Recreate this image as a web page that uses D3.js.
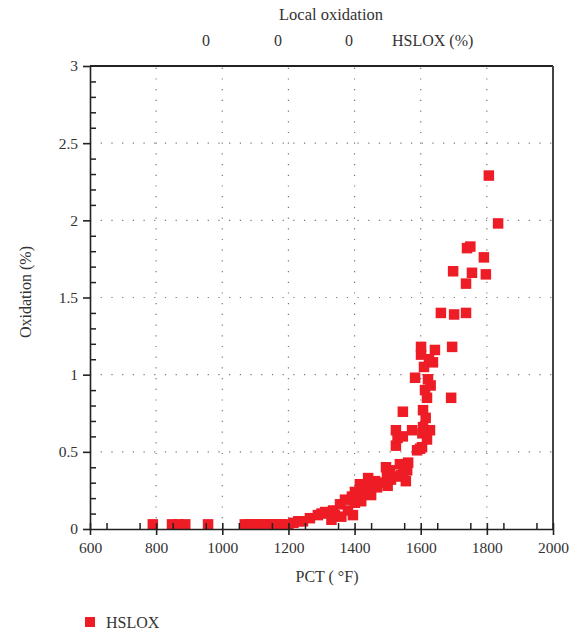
<!DOCTYPE html>
<html>
<head>
<meta charset="utf-8">
<script src="https://cdn.jsdelivr.net/npm/d3@7"></script>
<style>
  body { margin: 0; background: #fff; }
  svg text { font-family: "Liberation Serif", "DejaVu Serif", serif; fill: #333; }
</style>
</head>
<body>
<div id="chart"></div>
<script>
// data: PCT (F) and oxidation (%)
var pct = [790, 848, 868, 888, 957, 1068, 1082, 1096, 1110, 1124, 1138, 1152, 1166, 1178,
  1200, 1215, 1230, 1244, 1265, 1289, 1311, 1330, 1335, 1356, 1360, 1371, 1380, 1392, 1395,
  1401, 1401, 1416, 1420, 1432, 1441, 1447, 1450, 1468, 1480, 1498, 1500, 1507, 1510, 1528,
  1537, 1540, 1559, 1525, 1525, 1530, 1546, 1546, 1562, 1574, 1589, 1598, 1604, 1607, 1607,
  1619, 1628, 1619, 1613, 1622, 1583, 1692, 1601, 1601, 1643, 1637, 1695, 1661, 1701, 1737,
  1737, 1698, 1755, 1797, 1740, 1750, 1791, 1806, 1834,
  1610, 1625, 1630, 1615, 1605, 1548, 1555, 1495, 1462, 1430, 1340, 1300];
var oxidation = [0.03, 0.03, 0.03, 0.03, 0.03, 0.03, 0.03, 0.03, 0.03, 0.03, 0.03, 0.03, 0.03, 0.03,
  0.03, 0.04, 0.05, 0.05, 0.07, 0.09, 0.11, 0.06, 0.12, 0.16, 0.08, 0.19, 0.12, 0.21, 0.09,
  0.17, 0.24, 0.29, 0.18, 0.23, 0.33, 0.27, 0.22, 0.27, 0.30, 0.35, 0.28, 0.38, 0.32, 0.34,
  0.42, 0.35, 0.38, 0.54, 0.64, 0.59, 0.76, 0.60, 0.43, 0.64, 0.51, 0.52, 0.53, 0.66, 0.77,
  0.58, 0.64, 0.85, 0.90, 0.97, 0.98, 0.85, 1.18, 1.13, 1.16, 1.08, 1.18, 1.40, 1.39, 1.40,
  1.59, 1.67, 1.66, 1.65, 1.82, 1.83, 1.76, 2.29, 1.98,
  1.05, 1.10, 0.93, 0.72, 0.62, 0.36, 0.31, 0.40, 0.31, 0.26, 0.09, 0.10];

var xTicks = [600, 800, 1000, 1200, 1400, 1600, 1800, 2000];
var yTicks = [0, 0.5, 1, 1.5, 2, 2.5, 3];
var headerValues = ["0", "0", "0", "HSLOX (%)"];
var seriesName = "HSLOX";

var width = 576, height = 636;
var margin = { top: 66, right: 23, bottom: 107, left: 90 };
var red = "#ee1c25";

var svg = d3.select("#chart").append("svg")
  .attr("width", width)
  .attr("height", height);

// scales
var x = d3.scaleLinear().domain([600, 2000]).range([margin.left, width - margin.right]);
var y = d3.scaleLinear().domain([0, 3]).range([height - margin.bottom, margin.top]);

// dotted grid
svg.append("g").selectAll("line")
  .data(xTicks.slice(1, -1))
  .join("line")
  .attr("x1", function (d) { return x(d); })
  .attr("x2", function (d) { return x(d); })
  .attr("y1", y(0)).attr("y2", y(3))
  .attr("stroke", "#777").attr("stroke-width", 1.2)
  .attr("stroke-dasharray", "1.2,9.5");
svg.append("g").selectAll("line")
  .data(yTicks.slice(1, -1))
  .join("line")
  .attr("y1", function (d) { return y(d); })
  .attr("y2", function (d) { return y(d); })
  .attr("x1", x(600)).attr("x2", x(2000))
  .attr("stroke", "#777").attr("stroke-width", 1.2)
  .attr("stroke-dasharray", "1.2,9.5");

// points, clipped to the plot box
svg.append("clipPath").attr("id", "clip")
  .append("rect")
  .attr("x", x(600)).attr("y", y(3))
  .attr("width", x(2000) - x(600)).attr("height", y(0) - y(3));

var size = 10.5;
svg.append("g").attr("clip-path", "url(#clip)")
  .selectAll("rect")
  .data(pct.map(function (d, i) { return { pct: d, ox: oxidation[i] }; }))
  .join("rect")
  .attr("x", function (d) { return x(d.pct) - size / 2; })
  .attr("y", function (d) { return y(d.ox) - size / 2; })
  .attr("width", size).attr("height", size)
  .attr("fill", red);

// frame: top and right
svg.append("line").attr("x1", x(600)).attr("x2", x(2000)).attr("y1", y(3)).attr("y2", y(3))
  .attr("stroke", "#222").attr("stroke-width", 2);
svg.append("line").attr("x1", x(2000)).attr("x2", x(2000)).attr("y1", y(3)).attr("y2", y(0))
  .attr("stroke", "#444").attr("stroke-width", 2);

// minor ticks (inward)
var xAxisMinor = svg.append("g")
  .attr("transform", "translate(0," + y(0) + ")")
  .call(d3.axisTop(x).tickValues(d3.range(650, 2000, 100)).tickSize(6).tickFormat(""));
var yAxisMinor = svg.append("g")
  .attr("transform", "translate(" + x(600) + ",0)")
  .call(d3.axisRight(y).tickValues(d3.range(1, 30).filter(function (d) { return d % 5 != 0; }).map(function (d) { return d / 10; }))
    .tickSize(6).tickFormat(""));
xAxisMinor.selectAll(".tick line").attr("stroke", "#222").attr("stroke-width", 1.5);
yAxisMinor.selectAll(".tick line").attr("stroke", "#222").attr("stroke-width", 1.5);
xAxisMinor.select(".domain").remove();
yAxisMinor.select(".domain").remove();

// x axis
var xAxis = svg.append("g")
  .attr("transform", "translate(0," + y(0) + ")")
  .call(d3.axisBottom(x).tickValues(xTicks).tickSize(6).tickSizeOuter(0).tickPadding(7).tickFormat(d3.format("d")));
xAxis.selectAll(".tick line").attr("y1", -6);
xAxis.selectAll("line, path").attr("stroke", "#222").attr("stroke-width", 1.6);
xAxis.selectAll("text").style("font-size", "15.5px").attr("fill", "#333");

// y axis
var yAxis = svg.append("g")
  .attr("transform", "translate(" + x(600) + ",0)")
  .call(d3.axisLeft(y).tickValues(yTicks).tickSize(7).tickSizeOuter(0).tickPadding(5).tickFormat(d3.format("")));
yAxis.selectAll("line, path").attr("stroke", "#222").attr("stroke-width", 1.6);
yAxis.selectAll("text").style("font-size", "15.5px").attr("fill", "#333");

// axis titles
svg.append("text")
  .attr("x", 327).attr("y", 582)
  .attr("text-anchor", "middle")
  .style("font-size", "16px")
  .text("PCT ( \u00b0F)");
svg.append("text")
  .attr("transform", "translate(31,292) rotate(-90)")
  .attr("text-anchor", "middle")
  .style("font-size", "16px")
  .text("Oxidation (%)");

// header
svg.append("text")
  .attr("x", 331).attr("y", 20)
  .attr("text-anchor", "middle")
  .style("font-size", "16.5px")
  .text("Local oxidation");
var headerX = [206, 278, 349, 392];
svg.append("g").selectAll("text")
  .data(headerValues)
  .join("text")
  .attr("x", function (d, i) { return headerX[i]; })
  .attr("y", 46)
  .attr("text-anchor", function (d, i) { return i < 3 ? "middle" : "start"; })
  .style("font-size", "16px")
  .text(function (d) { return d; });

// legend
svg.append("rect").attr("x", 85).attr("y", 617).attr("width", 10).attr("height", 10).attr("fill", red);
svg.append("text").attr("x", 106).attr("y", 628)
  .style("font-size", "16px")
  .text(seriesName);
</script>
</body>
</html>
